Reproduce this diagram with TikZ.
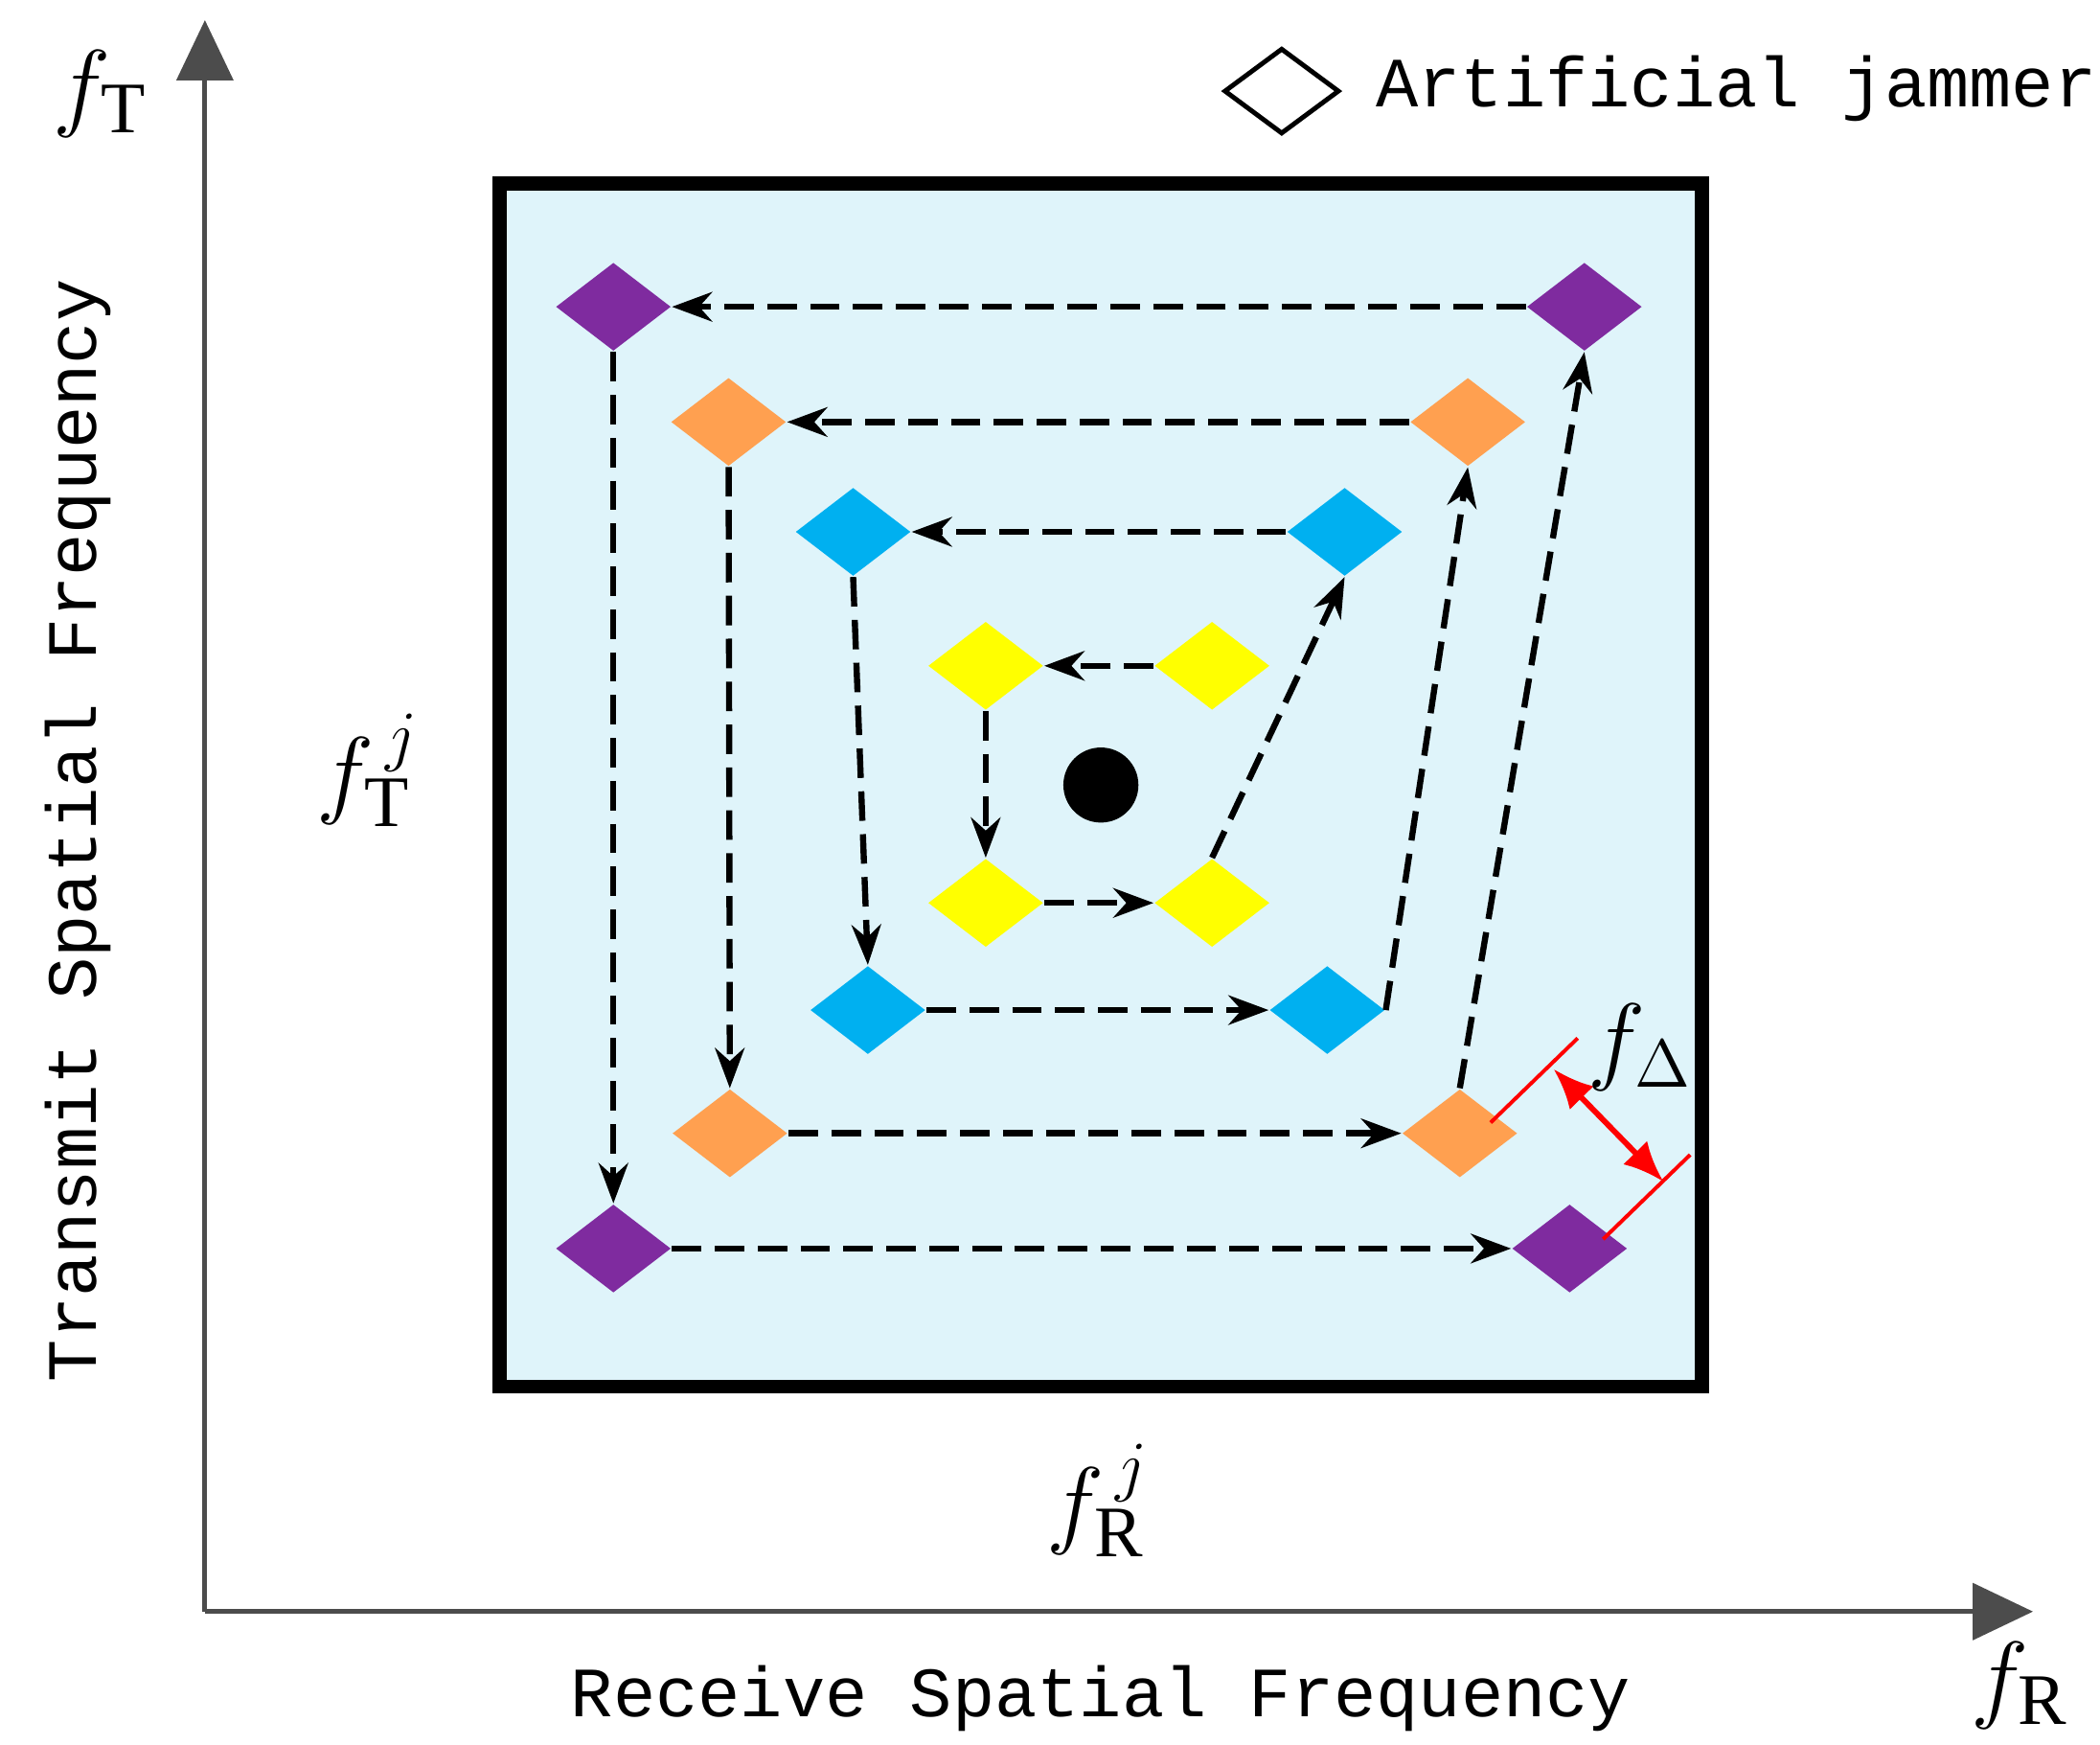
\documentclass[tikz,border=0pt]{standalone}
\usepackage{fontspec}
\setmainfont{Liberation Serif}
\newfontfamily\monof{Liberation Mono}
\usetikzlibrary{shapes.geometric,arrows.meta}
\definecolor{cpur}{HTML}{7F2B9F}
\definecolor{cora}{HTML}{FFA050}
\definecolor{cblu}{HTML}{00B0F0}
\definecolor{cyel}{HTML}{FFFF00}
\definecolor{cbg}{HTML}{DFF4FA}
\begin{document}
\begin{tikzpicture}[x=0.01cm,y=-0.01cm,
  dia/.style={diamond,draw=none,inner sep=0,minimum width=0.86cm,minimum height=0.66cm},
  pur/.style={dia,fill=cpur},ora/.style={dia,fill=cora},blu/.style={dia,fill=cblu},yel/.style={dia,fill=cyel},
  arr/.style={-{Stealth[length=0.3cm,width=0.22cm]},dash pattern=on 0.22cm off 0.1cm,line width=1.3pt},
  axis/.style={draw=black!70,line width=1pt,-{Triangle[length=0.45cm,width=0.42cm]}},
  mono/.style={font=\monof\fontsize{15}{18}\selectfont},
  big/.style={font=\fontsize{22}{26}\selectfont}]
\useasboundingbox (0,0) rectangle (1568,1302);
\coordinate (O) at (153,1203);
\coordinate (Ytop) at (153,15);
\coordinate (Xend) at (1518,1203);
\draw[axis] (O) -- (Ytop);
\draw[axis] (O) -- (Xend);
\node[big] (fT) at (75,70) {$f_{\mathrm{T}}$};
\node[big] (fR) at (1508,1258) {$f_{\mathrm{R}}$};
\node[mono,rotate=90] (ylab) at (58,620) {Transmit Spatial Frequency};
\node[mono] (xlab) at (822,1268) {Receive Spatial Frequency};
\node[diamond,draw,line width=1pt,inner sep=0,minimum width=0.86cm,minimum height=0.64cm] (leg) at (957,68) {};
\node[mono,anchor=west] (legt) at (1015,66) {Artificial jammer};
\draw[line width=3pt,fill=cbg] (373,137) rectangle (1271,1035);
\node[font=\fontsize{20}{24}\selectfont\bfseries] (theta) at (415,180) {$\mathbf{\Theta}$};
\node[pur] (p1) at (1183,229) {}; \node[pur] (p2) at (458,229) {};
\node[pur] (p3) at (458,932) {}; \node[pur] (p4) at (1172,932) {};
\node[ora] (o1) at (1096,315) {}; \node[ora] (o2) at (544,315) {};
\node[ora] (o3) at (545,846) {}; \node[ora] (o4) at (1090,846) {};
\node[blu] (b1) at (1004,397) {}; \node[blu] (b2) at (637,397) {};
\node[blu] (b3) at (648,754) {}; \node[blu] (b4) at (991,754) {};
\node[yel] (y1) at (905,497) {}; \node[yel] (y2) at (736,497) {};
\node[yel] (y3) at (736,674) {}; \node[yel] (y4) at (905,674) {};
\node[circle,fill=black,minimum size=0.56cm,inner sep=0] (dot) at (822,586) {};
\draw[arr] (y1) -- (y2); \draw[arr] (y2) -- (y3); \draw[arr] (y3) -- (y4); \draw[arr] (y4.north) -- (b1.south);
\draw[arr] (b1) -- (b2); \draw[arr] (b2.south) -- (b3.north); \draw[arr] (b3) -- (b4); \draw[arr] (b4.east) -- (o1.south);
\draw[arr] (o1) -- (o2); \draw[arr] (o2) -- (o3); \draw[arr] (o3) -- (o4); \draw[arr] (o4.north) -- (p1.south);
\draw[arr] (p1) -- (p2); \draw[arr] (p2) -- (p3); \draw[arr] (p3) -- (p4);
\coordinate (t1a) at (1113,838); \coordinate (t1b) at (1178,775);
\coordinate (t2a) at (1197,925); \coordinate (t2b) at (1262,862);
\draw[red,line width=0.8pt] (t1a) -- (t1b); \draw[red,line width=0.8pt] (t2a) -- (t2b);
\coordinate (da) at (1160,798); \coordinate (db) at (1242,882);
\draw[red,line width=1.2pt,{Latex[length=0.3cm,width=0.25cm]}-{Latex[length=0.3cm,width=0.25cm]}] (da) -- (db);
\node[big] (fD) at (1225,782) {$f_{\Delta}$};
\node[big] (fTj) at (275,575) {$f_{\mathrm{T}}^{\,j}$};
\node[big] (fRj) at (820,1120) {$f_{\mathrm{R}}^{\,j}$};
\end{tikzpicture}
\end{document}
